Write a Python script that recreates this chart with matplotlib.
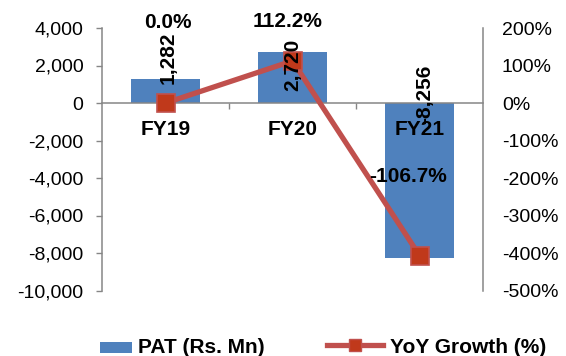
import matplotlib
matplotlib.use("Agg")
import matplotlib.pyplot as plt
from matplotlib.patches import Patch, Rectangle
from matplotlib.lines import Line2D
from matplotlib.legend_handler import HandlerPatch
from matplotlib.ticker import FuncFormatter, FixedLocator

plt.rcParams["font.family"] = ["Liberation Sans", "DejaVu Sans"]

# Data
categories = ["FY19", "FY20", "FY21"]
pat_values = [1282, 2720, -8256]          # PAT (Rs. Mn)
yoy_growth = [0.0, 112.2, -406.7]         # YoY Growth (%)
yoy_labels = ["0.0%", "112.2%", "-106.7%"]
left_ticks = [4000, 2000, 0, -2000, -4000, -6000, -8000, -10000]
right_ticks = [200, 100, 0, -100, -200, -300, -400, -500]

BAR_COLOR = "#4F81BD"
LINE_COLOR = "#C0504D"
MARKER_FACE = "#C0391B"
AXIS_GREY = "#868686"

W, H = 566, 356
fig = plt.figure(figsize=(W / 100, H / 100), dpi=100)
ax = fig.add_axes([102 / W, 1 - 290.5 / H, (483 - 102) / W, (290.5 - 28) / H])
ax2 = ax.twinx()

x = list(range(len(categories)))

# Bars on the left axis
ax.bar(x, pat_values, width=0.55, color=BAR_COLOR, zorder=2)
ax.set_xlim(-0.5, len(categories) - 0.5)
ax.set_ylim(-10000, 4000)
ax.yaxis.set_major_locator(FixedLocator(left_ticks))
ax.yaxis.set_major_formatter(FuncFormatter(lambda v, p: f"{int(v):,}"))
ax.tick_params(axis="y", direction="out", length=4.3, width=1.0, color=AXIS_GREY,
               labelsize=14, pad=9)

# Category axis sits on the zero line, labels drawn over the bars
ax.spines["bottom"].set_position(("data", 0))
ax.set_xticks(x)
ax.set_xticklabels(categories, fontweight="bold", fontsize=15)
ax.tick_params(axis="x", which="major", length=0, pad=12.5)
ax.set_xticks([0.5, 1.5], minor=True)
ax.tick_params(axis="x", which="minor", direction="out", length=4.3, width=1.0,
               color=AXIS_GREY)
ax.xaxis.set_zorder(4)

for sp in ["top", "right"]:
    ax.spines[sp].set_visible(False)
for sp in ["left", "bottom"]:
    ax.spines[sp].set_color(AXIS_GREY)
    ax.spines[sp].set_linewidth(1.1)

# Growth line on the right axis
ax2.plot(x, yoy_growth, color=LINE_COLOR, lw=3.8, marker="s", markersize=13,
         markerfacecolor=MARKER_FACE, markeredgecolor=LINE_COLOR,
         markeredgewidth=1.2, zorder=3)
ax2.set_ylim(-500, 200)
ax2.yaxis.set_major_locator(FixedLocator(right_ticks))
ax2.yaxis.set_major_formatter(FuncFormatter(lambda v, p: f"{int(v)}%"))
ax2.tick_params(axis="y", length=0, labelsize=14, pad=13.5)
for sp in ["top", "left", "bottom"]:
    ax2.spines[sp].set_visible(False)
ax2.spines["right"].set_color(AXIS_GREY)
ax2.spines["right"].set_linewidth(1.1)

# Bar value labels (rotated), offsets in pixels from the bar end / base
bar_label_anchor = [1, 1, 0]   # 1: bar end, 0: zero line
bar_label_offset = [(3, 21), (0, -13), (5, 9)]
for xi, v, anc, (dx, dy) in zip(x, pat_values, bar_label_anchor, bar_label_offset):
    yref = v if anc else 0
    ax2.annotate(f"{v:,}", xy=(xi, yref), xycoords=ax.transData,
                 xytext=(dx, dy), textcoords="offset pixels",
                 rotation=90, ha="center", va="center",
                 fontsize=15, fontweight="bold", zorder=6)

# Growth value labels
yoy_label_offset = [(2, 81), (-5, 39), (-12, 79)]
for xi, v, txt, (dx, dy) in zip(x, yoy_growth, yoy_labels, yoy_label_offset):
    ax2.annotate(txt, xy=(xi, v), xytext=(dx, dy), textcoords="offset pixels",
                 ha="center", va="center", fontsize=15, fontweight="bold", zorder=6)


# Legend with a short bar swatch aligned next to its text
def narrow_patch(legend, orig_handle, xdescent, ydescent, width, height, fontsize):
    frac = 0.57
    return Rectangle((-xdescent + width * (1 - frac), -ydescent - height * 0.05),
                     width * frac, height * 0.75)


handles = [
    Patch(facecolor=BAR_COLOR, label="PAT (Rs. Mn)"),
    Line2D([], [], color=LINE_COLOR, lw=3.8, marker="s", markersize=9,
           markerfacecolor=MARKER_FACE, markeredgecolor=LINE_COLOR,
           label="YoY Growth (%)"),
]
fig.legend(handles=handles, loc="center", bbox_to_anchor=(0.549, 0.025),
           ncol=2, frameon=False, handlelength=2.7, handletextpad=0.3,
           columnspacing=3.0, prop={"weight": "bold", "size": 15},
           handler_map={Patch: HandlerPatch(patch_func=narrow_patch)})

fig.savefig("out.png", dpi=100)
